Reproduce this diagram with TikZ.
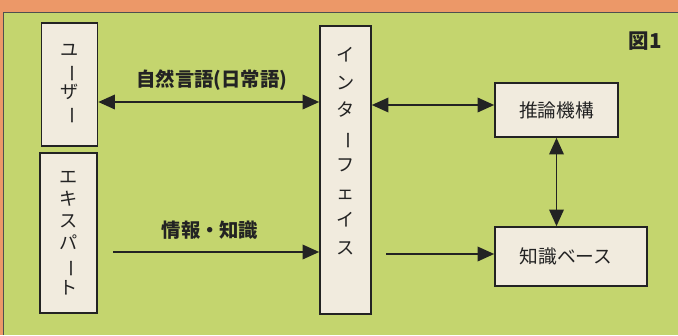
\documentclass[tikz,border=0pt]{standalone}
\usepackage{fontspec}
\setmainfont{Noto Sans CJK JP}
\usetikzlibrary{arrows.meta, positioning, calc}
\definecolor{bggreen}{RGB}{196,213,110}
\definecolor{topband}{RGB}{236,152,104}
\definecolor{boxfill}{RGB}{241,235,222}
\definecolor{inkgray}{RGB}{35,35,35}
\newcommand{\vbar}{\rotatebox[origin=c]{-90}{ー}}

\begin{document}
\begin{tikzpicture}[
    x=0.3mm, y=-0.3mm,
    block/.style={rectangle, draw=inkgray, line width=1.4pt, fill=boxfill, align=center, inner sep=0pt, text=inkgray, font=\fontsize{16}{18}\selectfont},
    vtext/.style={align=center, inner sep=0pt, text=inkgray},
    lbl/.style={text=inkgray, inner sep=1pt, font=\fontsize{16.5}{18}\selectfont\bfseries},
    arrow/.style={-{Triangle[length=5mm, width=4.4mm]}, line width=1.3pt, draw=inkgray},
    darrow/.style={{Triangle[length=5mm, width=4.4mm]}-{Triangle[length=5mm, width=4.4mm]}, line width=1.3pt, draw=inkgray},
]
    % Background and frame
    \useasboundingbox (0,0) rectangle (678,335);
    \fill[topband] (0,0) rectangle (678,335);
    \fill[bggreen] (3,12) rectangle (678,335);
    \draw[inkgray!80, line width=0.8pt] (3,335) -- (3,12) -- (678,12);

    % Left column
    \node[block, minimum width=16.8mm, minimum height=36.9mm,
          font=\fontsize{15.5}{18}\selectfont] (user) at (69.5,84.5) {ユ\\\vbar\\ザ\\\vbar};
    \node[block, minimum width=17.1mm, minimum height=48mm,
          font=\fontsize{15.5}{19}\selectfont] (expert) at (68.5,233) {エ\\キ\\ス\\パ\\\vbar\\ト};

    % Interface
    \node[block, minimum width=15.3mm, minimum height=86.4mm] (iface) at (345.5,170) {};
    \node[vtext, font=\fontsize{15.5}{23.5}\selectfont] (ifacetext) at (345.5,151)
        {イ\\ン\\タ\\\vbar\\フ\\ェ\\イ\\ス};

    % Right column
    \node[block, minimum width=36.9mm, minimum height=16.2mm] (reason) at (556.5,110) {推論機構};
    \node[block, minimum width=45.6mm, minimum height=17.7mm] (kb) at (571,256.5) {知識ベース\hspace*{3mm}};

    % Figure label
    \node[text=inkgray, inner sep=0pt, font=\fontsize{17.5}{17}\selectfont\bfseries] (fig) at (645,41) {図1};

    % Arrows
    \coordinate (nlrow) at (0,102);
    \draw[darrow] (user.east |- nlrow) -- (iface.west |- nlrow);
    \node[lbl] (natlang) at (212,80) {自然言語(日常語)};

    \coordinate (irow) at (0,105);
    \draw[darrow] (iface.east |- irow) -- (reason.west |- irow);

    \draw[darrow] (reason.south) -- (reason.south |- kb.north);

    \coordinate (expstart) at (113,252);
    \draw[arrow] (expstart) -- (iface.west |- expstart);
    \node[lbl] (info) at (210,230) {情報・知識};

    \coordinate (kbstart) at (386,254);
    \draw[arrow] (kbstart) -- (kb.west |- kbstart);

\end{tikzpicture}
\end{document}
